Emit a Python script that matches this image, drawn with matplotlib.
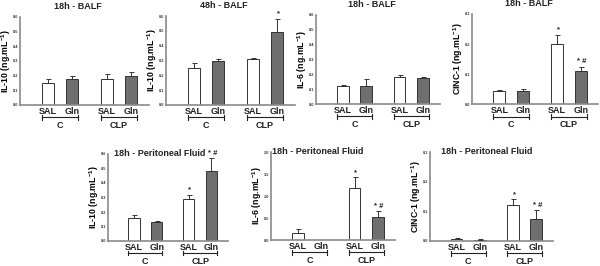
import matplotlib
matplotlib.use("Agg")
import matplotlib.pyplot as plt
import matplotlib.transforms as mtransforms

plt.rcParams['font.family'] = ['Liberation Sans', 'DejaVu Sans']
plt.rcParams['font.weight'] = 'bold'
plt.rcParams['mathtext.fontset'] = 'custom'
plt.rcParams['mathtext.bf'] = 'Liberation Sans:bold'
plt.rcParams['mathtext.rm'] = 'Liberation Sans:bold'
plt.rcParams['mathtext.default'] = 'bf'

treatments = ['SAL', 'Gln', 'SAL', 'Gln']
groups = ['C', 'CLP']

titles = ['18h - BALF', '48h - BALF', '18h - BALF', '18h - BALF',
          '18h - Peritoneal Fluid', '18h - Peritoneal Fluid', '18h - Peritoneal Fluid']
ylabels = ['IL-10 (ng.mL$^{-1}$)', 'IL-10 (ng.mL$^{-1}$)', 'IL-6 (ng.mL$^{-1}$)', 'CINC-1 (ng.mL$^{-1}$)',
           'IL-10 (ng.mL$^{-1}$)', 'IL-6 (ng.mL$^{-1}$)', 'CINC-1 (ng.mL$^{-1}$)']

il10_balf_18 = [0.15, 0.175, 0.18, 0.20]
il10_balf_18_err = [0.025, 0.02, 0.03, 0.025]
il10_balf_48 = [0.25, 0.30, 0.31, 0.49]
il10_balf_48_err = [0.035, 0.01, 0.01, 0.09]
il6_balf_18 = [0.12, 0.12, 0.18, 0.175]
il6_balf_18_err = [0.005, 0.05, 0.015, 0.01]
cinc_balf_18 = [0.045, 0.045, 0.20, 0.11]
cinc_balf_18_err = [0.002, 0.004, 0.03, 0.015]
il10_pf = [0.16, 0.13, 0.29, 0.48]
il10_pf_err = [0.02, 0.005, 0.03, 0.09]
il6_pf = [0.15, 0.0, 1.18, 0.52]
il6_pf_err = [0.10, 0.0, 0.25, 0.13]
cinc_pf = [0.008, 0.005, 0.12, 0.075]
cinc_pf_err = [0.002, 0.001, 0.02, 0.03]

marks = [['', '', '', ''], ['', '', '', '*'], ['', '', '', ''], ['', '', '*', '* #'],
         ['', '', '*', '* #'], ['', '', '*', '* #'], ['', '', '*', '* #']]

values = [il10_balf_18, il10_balf_48, il6_balf_18, cinc_balf_18, il10_pf, il6_pf, cinc_pf]
errors = [il10_balf_18_err, il10_balf_48_err, il6_balf_18_err, cinc_balf_18_err,
          il10_pf_err, il6_pf_err, cinc_pf_err]
ymax = [0.6, 0.6, 0.6, 0.3, 0.6, 2.0, 0.3]
ystep = [0.1, 0.1, 0.1, 0.1, 0.1, 0.5, 0.1]

# axes boxes in pixels: left, top, right, bottom
boxes = [(20, 17, 149, 105), (166, 16, 295, 105), (316, 15, 440, 104), (472, 14, 598, 104),
         (108, 154, 228, 241), (271, 152, 395, 240), (430, 152, 553, 241)]
title_x = [0.45, 0.45, 0.45, 0.45, 0.43, 0.38, 0.46]
label_gap = 13.5  # px from axis to ylabel centre

W, H = 600, 266
fig = plt.figure(figsize=(6, 2.66), dpi=100)
pos = [0, 1, 2.42, 3.42]
spine_col = '#8a8a8a'

for i in range(7):
    l, t, r, b = boxes[i]
    ax = fig.add_axes([l / W, 1 - b / H, (r - l) / W, (b - t) / H])
    vals = values[i]
    errs = errors[i]
    top = ymax[i]
    for j in range(4):
        fc = 'white' if j % 2 == 0 else '#6f6f6f'
        if vals[j] > 0:
            ax.bar(pos[j], vals[j], width=0.5, color=fc, edgecolor='#333333', linewidth=0.7, zorder=2)
            ax.errorbar(pos[j], vals[j], yerr=[[0], [errs[j]]], fmt='none', ecolor='#333333',
                        elinewidth=0.7, capsize=1.8, capthick=0.7, zorder=3)
        if marks[i][j]:
            ax.text(pos[j] + 0.05, vals[j] + errs[j] + top * 0.015, marks[i][j], ha='center',
                    va='bottom', fontsize=5.5, color='#222222')
    ax.set_xlim(-1.15, 4.15)
    ax.set_ylim(0, top)
    n = int(round(top / ystep[i]))
    ticks = [k * ystep[i] for k in range(n + 1)]
    ax.set_yticks(ticks)
    ax.set_yticklabels(['%.1f' % v for v in ticks], fontsize=2.8, color='#333333')
    ax.set_xticks([])
    ax.tick_params(axis='y', length=1.0, width=0.6, pad=0.6, color=spine_col)
    for s in ['top', 'right']:
        ax.spines[s].set_visible(False)
    for s in ['left', 'bottom']:
        ax.spines[s].set_color(spine_col)
        ax.spines[s].set_linewidth(1.2)
    ax.set_ylabel(ylabels[i], fontsize=6.3, fontweight='bold', va='center')
    ax.yaxis.set_label_coords(-label_gap / (r - l), 0.5)

    tr = mtransforms.blended_transform_factory(ax.transData, ax.transAxes)
    for j in range(4):
        ax.text(pos[j], -0.025, treatments[j], transform=tr, ha='center', va='top',
                fontsize=6.5, fontweight='bold', color='#222222')
    for g in range(2):
        x0 = pos[2 * g] - 0.25
        x1 = pos[2 * g + 1] + 0.25
        yb = -0.14
        ax.plot([x0, x1], [yb, yb], transform=tr, color='#222222', lw=0.8, clip_on=False)
        ax.plot([x0, x0], [yb - 0.025, yb + 0.025], transform=tr, color='#222222', lw=0.8, clip_on=False)
        ax.plot([x1, x1], [yb - 0.025, yb + 0.025], transform=tr, color='#222222', lw=0.8, clip_on=False)
        ax.text((x0 + x1) / 2, yb - 0.04, groups[g], transform=tr, ha='center', va='top',
                fontsize=6.5, fontweight='bold', color='#222222')

    ty = 1.07 if i < 4 else 1.0
    ax.text(title_x[i], ty, titles[i], transform=ax.transAxes, ha='center', va='bottom' if i < 4 else 'center',
            fontsize=6.5, fontweight='bold', color='#222222')

fig.savefig('out.png', dpi=100, facecolor='white')
